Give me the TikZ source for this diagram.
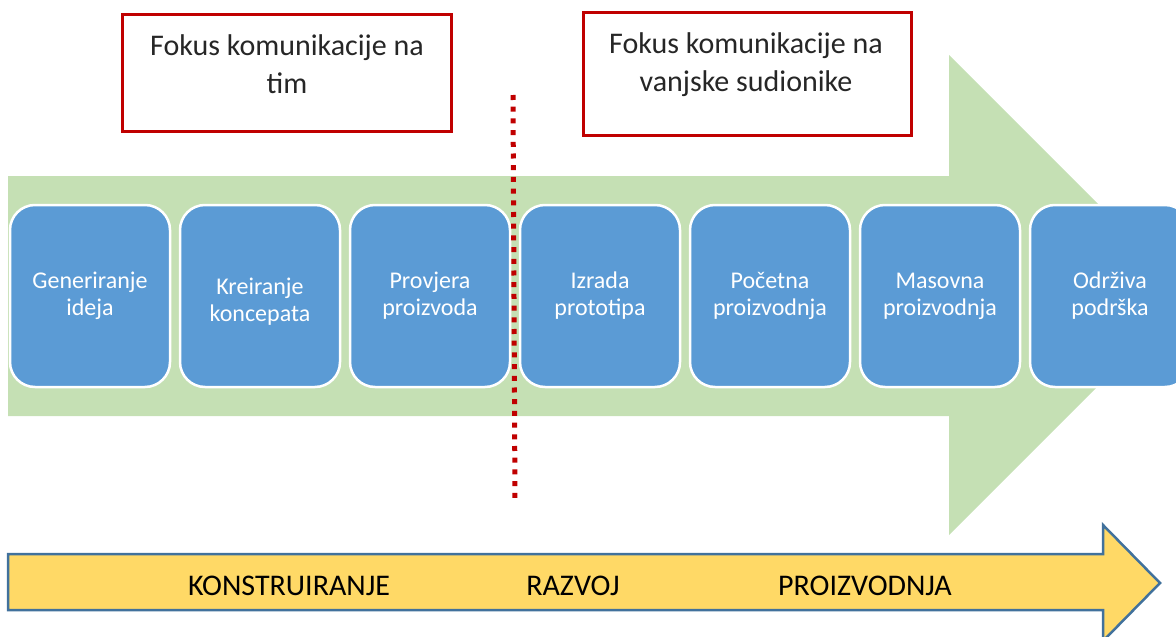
\documentclass[tikz,border=0pt]{standalone}
\usepackage{fontspec}
\setmainfont{Carlito}
\definecolor{arrowgreen}{RGB}{197,224,180}
\definecolor{stageblue}{RGB}{91,155,213}
\definecolor{focusred}{RGB}{192,0,0}
\definecolor{phaseyellow}{RGB}{255,217,102}
\definecolor{phaseborder}{RGB}{65,113,156}
\definecolor{darktext}{RGB}{38,38,38}
\begin{document}
\begin{tikzpicture}[x=1pt,y=-1pt,
  stagebox/.style={draw=white, line width=2.5pt, fill=stageblue, rounded corners=25pt,
    minimum width=160pt, minimum height=182pt, inner sep=0pt},
  stagetext/.style={text=white, align=center, font=\fontsize{24}{27}\selectfont, inner sep=0pt},
  focusbox/.style={draw=focusred, line width=3pt, inner sep=0pt},
  focustext/.style={text=darktext, align=center, font=\fontsize{30}{38}\selectfont, inner sep=0pt},
  phaselabel/.style={text=black, font=\fontsize{30}{36}\selectfont, inner sep=0pt, anchor=base}]
\useasboundingbox (0,0) rectangle (1176,637);
\clip (0,0) rectangle (1176,637);
% big green arrow
\fill[arrowgreen] (8,176) -- (949,176) -- (949,55) -- (1189,295) -- (949,535) -- (949,416) -- (8,416) -- cycle;
% stage boxes
\foreach \i/\x/\ty/\t in {1/90/296/{Generiranje\\ideja}, 2/260/302/{Kreiranje\\koncepata}, 3/430/296/{Provjera\\proizvoda},
  4/600/296/{Izrada\\prototipa}, 5/770/296/{Početna\\proizvodnja}, 6/940/296/{Masovna\\proizvodnja}, 7/1110/296/{Održiva\\podrška}} {
  \node[stagebox] (s\i) at (\x,296) {};
  \node[stagetext] (st\i) at (\x,\ty) {\t};
}
% focus boxes
\node[focusbox, minimum width=329pt, minimum height=117pt] (f1) at (286.5,72.5) {};
\node[focustext] (ft1) at (287,64) {Fokus komunikacije na\\tim};
\node[focusbox, minimum width=328pt, minimum height=123pt] (f2) at (747,73.5) {};
\node[focustext] (ft2) at (746,65) {Fokus komunikacije na\\vanjske sudionike};
% dotted divider
\coordinate (dtop) at (513,95);
\coordinate (dbot) at (515,502);
\draw[focusred, line width=5pt, dash pattern=on 5pt off 6.7pt] (dtop) -- (dbot);
% yellow phase arrow
\draw[fill=phaseyellow, draw=phaseborder, line width=2.5pt, line join=miter]
  (8,554) -- (1103,554) -- (1103,525) -- (1160,583) -- (1103,641) -- (1103,610) -- (8,610) -- cycle;
\node[phaselabel] (p1) at (289,595) {KONSTRUIRANJE};
\node[phaselabel] (p2) at (573,595) {RAZVOJ};
\node[phaselabel] (p3) at (865,595) {PROIZVODNJA};
\end{tikzpicture}
\end{document}
